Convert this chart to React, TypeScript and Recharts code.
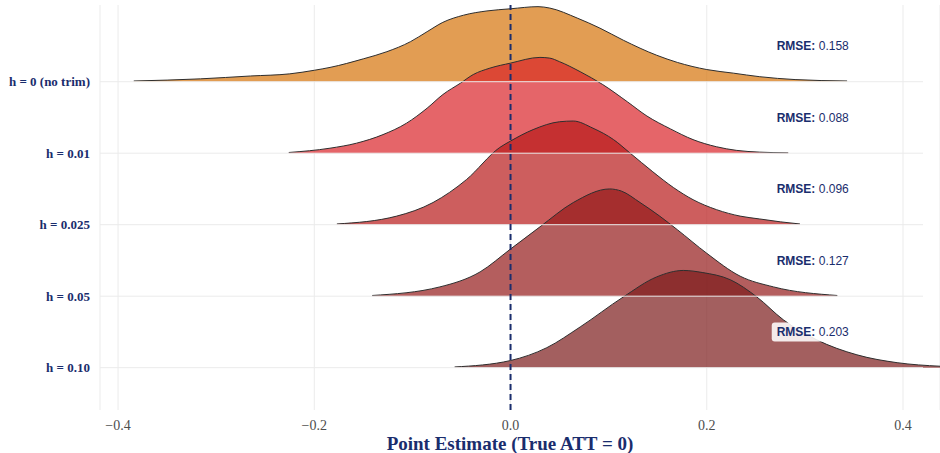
import { ComposedChart, Area, XAxis, YAxis, CartesianGrid, ReferenceLine, Scatter, Label } from 'recharts';

// rows, top to bottom
const rowLabels = ['h = 0 (no trim)', 'h = 0.01', 'h = 0.025', 'h = 0.05', 'h = 0.10'];
const rmseValues = ['0.158', '0.088', '0.096', '0.127', '0.203'];
const xTicks = [-0.4, -0.2, 0, 0.2, 0.4];

// density curves (height in row units)
const xNoTrim = [-0.384, -0.316, -0.265, -0.225, -0.2, -0.184, -0.15, -0.126, -0.102, -0.085, -0.069, -0.048, -0.024, 0.0, 0.028, 0.04, 0.068, 0.091, 0.115, 0.149, 0.17, 0.2, 0.227, 0.254, 0.29, 0.343];
const dNoTrim = [0.01, 0.04, 0.08, 0.11, 0.16, 0.2, 0.32, 0.42, 0.56, 0.7, 0.83, 0.93, 0.99, 1.02, 1.05, 1.03, 0.89, 0.75, 0.58, 0.37, 0.27, 0.17, 0.12, 0.07, 0.03, 0.01];

const x001 = [-0.226, -0.184, -0.157, -0.13, -0.106, -0.085, -0.069, -0.051, -0.038, -0.021, 0.0, 0.03, 0.04, 0.05, 0.071, 0.094, 0.119, 0.139, 0.163, 0.186, 0.21, 0.23, 0.254, 0.283];
const d001 = [0.01, 0.07, 0.14, 0.26, 0.42, 0.63, 0.82, 0.98, 1.1, 1.19, 1.26, 1.34, 1.33, 1.28, 1.14, 0.96, 0.72, 0.52, 0.34, 0.19, 0.09, 0.04, 0.015, 0.005];

const x0025 = [-0.177, -0.116, -0.079, -0.045, -0.011, 0.0, 0.023, 0.05, 0.064, 0.084, 0.105, 0.122, 0.145, 0.166, 0.186, 0.21, 0.234, 0.254, 0.275, 0.295];
const d0025 = [0.01, 0.12, 0.31, 0.63, 1.08, 1.17, 1.33, 1.44, 1.45, 1.35, 1.19, 1.0, 0.74, 0.52, 0.35, 0.21, 0.12, 0.08, 0.04, 0.01];

const x005 = [-0.141, -0.072, -0.031, 0.0, 0.03, 0.064, 0.101, 0.113, 0.132, 0.152, 0.17, 0.2, 0.234, 0.268, 0.333];
const d005 = [0.01, 0.13, 0.34, 0.66, 0.97, 1.31, 1.5, 1.47, 1.31, 1.12, 0.93, 0.6, 0.28, 0.13, 0.01];

const x010 = [-0.057, 0.0, 0.037, 0.071, 0.115, 0.149, 0.176, 0.196, 0.224, 0.251, 0.278, 0.312, 0.353, 0.394, 0.438];
const d010 = [0.01, 0.1, 0.28, 0.57, 0.99, 1.27, 1.36, 1.33, 1.23, 0.99, 0.67, 0.39, 0.18, 0.07, 0.02];

const ridgeX = [xNoTrim, x001, x0025, x005, x010];
const ridgeD = [dNoTrim, d001, d0025, d005, d010];
const fills = ['#D5730A', '#DA242A', '#B81A1A', '#941919', '#7C1B1B'];

const navy = '#1a2d6d';
const serif = "'Liberation Serif', 'Times New Roman', serif";
const X_DOMAIN = [-0.4184, 0.4377];
const Y_DOMAIN = [-0.592, 5.073];
const GRID_RIGHT = 0.4204;
const LABEL_X = 0.308;

const nRows = rowLabels.length;
const rowOf = (i: number) => nRows - 1 - i;

const ridges = ridgeX.map((xs, i) => xs.map((x, j) => ({ x, y: rowOf(i) + ridgeD[i][j] })));
const rmseData = rmseValues.map((value, i) => ({ x: LABEL_X, y: rowOf(i) + 0.5, value }));

const RmseLabel = (props: any) => {
  const { cx, cy, payload } = props;
  return (
    <g>
      <rect x={cx - 41} y={cy - 9.5} width={82} height={19} rx={3} fill="#ffffff" fillOpacity={0.88} />
      <text x={cx} y={cy} dy="0.36em" textAnchor="middle" fontFamily="'Liberation Sans', Arial, sans-serif" fontSize={12} fill={navy}>
        <tspan fontWeight="bold">RMSE:</tspan>
        <tspan>{' ' + payload.value}</tspan>
      </text>
    </g>
  );
};

export default function App() {
  return (
    <div style={{ position: 'absolute', left: 0, top: 0, width: 940, height: 453, background: '#fff' }}>
      <ComposedChart width={940} height={453} margin={{ top: 5, right: 0, bottom: 0, left: 0 }}>
        <CartesianGrid horizontal={false} stroke="#ebebeb" strokeWidth={1} />
        <XAxis
          type="number"
          dataKey="x"
          domain={X_DOMAIN}
          allowDataOverflow
          ticks={xTicks}
          interval={0}
          tickFormatter={(v: number) => (v < 0 ? '\u2212' : '') + Math.abs(v).toFixed(1)}
          axisLine={false}
          tickLine={false}
          tickMargin={4}
          height={43}
          tick={{ fill: '#4d4d4d', fontSize: 14, fontFamily: serif }}
        >
          <Label
            value="Point Estimate (True ATT = 0)"
            position="insideBottom"
            offset={3}
            dx={-10}
            fill={navy}
            fontSize={19}
            fontWeight="bold"
            fontFamily={serif}
          />
        </XAxis>
        <YAxis
          type="number"
          dataKey="y"
          domain={Y_DOMAIN}
          allowDataOverflow
          ticks={rowLabels.map((_, i) => rowOf(i))}
          interval={0}
          tickFormatter={(v: number) => rowLabels[rowOf(v)]}
          axisLine={false}
          tickLine={false}
          tickMargin={4}
          width={100}
          tick={{ fill: navy, fontSize: 13, fontWeight: 'bold', fontFamily: serif }}
        />
        {rowLabels.map((_, i) => (
          <ReferenceLine
            key={'g' + i}
            segment={[{ x: X_DOMAIN[0], y: rowOf(i) }, { x: GRID_RIGHT, y: rowOf(i) }]}
            stroke="#ebebeb"
            strokeWidth={1}
          />
        ))}
        {ridges.map((data, i) => (
          <Area
            key={'r' + i}
            data={data}
            dataKey="y"
            type="monotone"
            baseValue={rowOf(i)}
            fill={fills[i]}
            fillOpacity={0.7}
            stroke="#2e2e2e"
            strokeWidth={1}
            dot={false}
            activeDot={false}
            isAnimationActive={false}
          />
        ))}
        <ReferenceLine x={0} stroke={navy} strokeWidth={2} strokeDasharray="6 4" />
        <Scatter data={rmseData} dataKey="y" shape={RmseLabel} isAnimationActive={false} />
      </ComposedChart>
    </div>
  );
}
